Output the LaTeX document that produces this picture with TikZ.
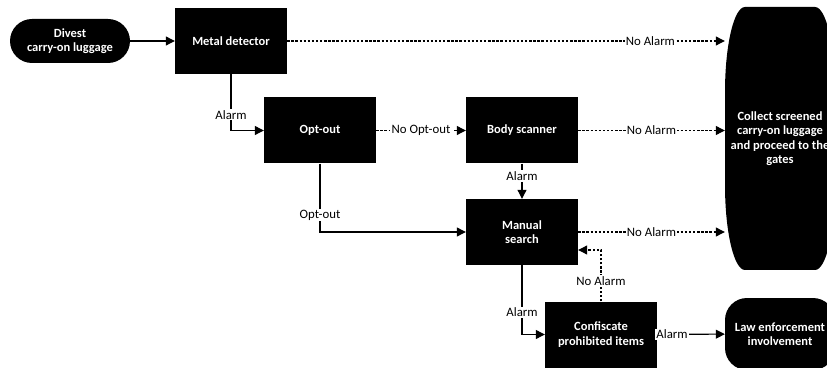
\documentclass[tikz,border=0pt]{standalone}
\usepackage{fontspec}
\setmainfont{Carlito}
\usetikzlibrary{arrows.meta}

\begin{document}
\begin{tikzpicture}[x=1pt, y=1pt,
    box/.style={fill=black, text=white, font=\fontsize{12.5}{14.5}\selectfont\bfseries, align=center, minimum width=112pt, minimum height=66pt, inner sep=2pt},
    term/.style={box, rounded corners=22pt},
    lbl/.style={fill=white, inner sep=1.2pt, font=\fontsize{12.8}{14.5}\selectfont},
    yes/.style={line width=1.1pt, -{Triangle[length=9pt, width=9pt]}},
    no/.style={yes, dash pattern=on 2.4pt off 1.7pt}]
    \useasboundingbox (0,0) rectangle (827,367);
    % big end shape on the right
    \fill (745,360) -- (815,360) arc[start angle=90, end angle=0, x radius=20, y radius=85] -- (835,182)
        arc[start angle=0, end angle=-90, x radius=20, y radius=85] -- (745,97)
        arc[start angle=270, end angle=180, x radius=20, y radius=85] -- (725,275)
        arc[start angle=180, end angle=90, x radius=20, y radius=85] -- cycle;
    \node (collect) at (780,228.5) [text=white, font=\fontsize{12.5}{14.5}\selectfont\bfseries, align=center, minimum width=110pt, minimum height=263pt] {Collect screened\\carry-on luggage\\and proceed to the\\gates};
    \node (divest) at (70,326) [term, minimum width=120pt, minimum height=44pt] {Divest\\carry-on luggage};
    \node (md) at (231,326) [box] {Metal detector};
    \node (optout) at (320,236.5) [box] {Opt-out};
    \node (body) at (522,236.5) [box] {Body scanner};
    \node (manual) at (522,135) [box] {Manual\\search};
    \node (confisc) at (601,32.5) [box] {Confiscate\\prohibited items};
    \node (law) at (780,33) [term, minimum width=110pt, minimum height=72pt] {Law enforcement\\involvement};

    \draw[yes] (divest) -- (md);
    \draw[no] (md) -- node[lbl, pos=0.83] {No Alarm} (md -| collect.west);
    \draw[yes] (md.south) |- node[lbl, pos=0.36] {Alarm} (optout.west);
    \draw[no] (optout) -- node[lbl] {No Opt-out} (body);
    \draw[no] (body) -- node[lbl] {No Alarm} (body -| collect.west);
    \draw[yes] (body) -- node[lbl, pos=0.35] {Alarm} (manual);
    \draw[yes] (optout.south) |- node[lbl, pos=0.375] {Opt-out} (manual.west);
    \draw[no] (manual) -- node[lbl] {No Alarm} (manual -| collect.west);
    \draw[yes] (manual.south) |- node[lbl, pos=0.34] {Alarm} (confisc.west);
    \draw[no] (confisc.north) |- node[lbl, pos=0.2] {No Alarm} ([yshift=-18pt]manual.east);
    \draw[yes] (confisc) -- node[lbl, pos=0.22] {Alarm} (law);
\end{tikzpicture}
\end{document}
